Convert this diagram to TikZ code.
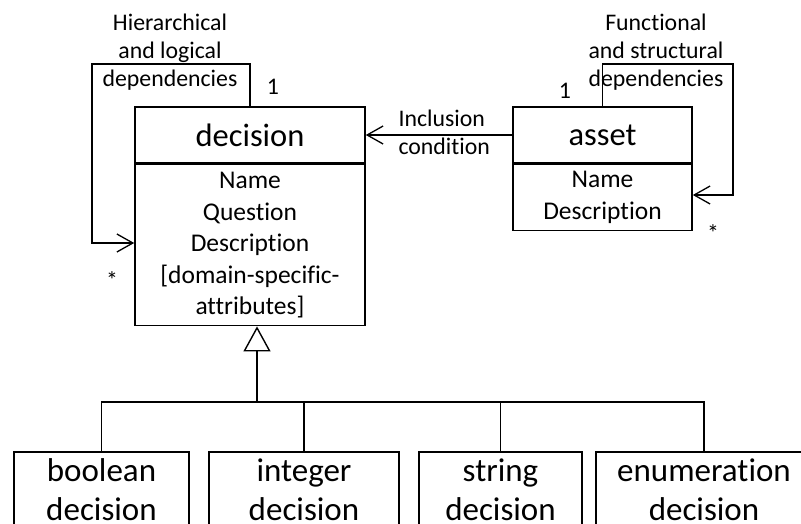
\documentclass[tikz,border=0pt]{standalone}
\usepackage{fontspec}
\setmainfont{Carlito}[Ligatures={NoCommon}]
\usetikzlibrary{arrows.meta}
\begin{document}
\begin{tikzpicture}[x=1pt,y=-1pt,
  box/.style={draw, line width=1.6pt, inner sep=0pt, align=center},
  headfont/.style={font=\fontsize{32.5}{40}\selectfont},
  attrfont/.style={font=\fontsize{25.5}{31.5}\selectfont},
  subfont/.style={font=\fontsize{33}{39}\selectfont},
  lblfont/.style={font=\fontsize{23.8}{28}\selectfont},
  conn/.style={line width=1.3pt},
  barb/.style={conn, -{Straight Barb[length=16pt,width=18pt,line width=1.3pt]}},
  gen/.style={line width=2.5pt, -{Triangle[open,length=25pt,width=27pt,line width=1.4pt,fill=white]}}
]
\clip (0,0) rectangle (801,524);
\fill[white] (0,0) rectangle (801,524);

% decision class
\node[box, headfont, minimum width=230pt, minimum height=56pt] (dhead) at (250,135) {decision};
\node[box, attrfont, minimum width=230pt, minimum height=161pt, anchor=north] (dbody) at (dhead.south)
  {Name\\Question\\Description\\{[}domain-specific-\\attributes{]}};

% asset class
\node[box, headfont, minimum width=179pt, minimum height=56pt] (ahead) at (602.5,135) {asset};
\node[box, attrfont, minimum width=179pt, minimum height=66pt, anchor=north] (abody) at (ahead.south)
  {Name\\Description};

% subclasses
\node[box, subfont, minimum width=175pt, minimum height=76pt] (bool) at (101.5,490) {boolean\\decision};
\node[box, subfont, minimum width=190pt, minimum height=76pt] (int) at (304,490) {integer\\decision};
\node[box, subfont, minimum width=163pt, minimum height=76pt] (str) at (500.5,490) {string\\decision};
\node[box, subfont, minimum width=216pt, minimum height=76pt] (enum) at (704,490) {enumeration\\decision};

% generalization
\coordinate (bar) at (257,402);
\draw[conn] (bool.north) -- (bool.north |- bar) -- (enum.north |- bar) -- (enum.north);
\draw[conn] (int.north) -- (int.north |- bar);
\draw[conn] (str.north) -- (str.north |- bar);
\draw[gen] (bar) -- (dbody.south -| bar);

% inclusion condition
\draw[barb] (ahead.west) -- (dhead.east);
\node[lblfont, align=left, anchor=west] (incl) at (395,132) {Inclusion\\condition};

% decision self loop
\coordinate (hlA) at (92,64);
\coordinate (hlB) at (92,243);
\draw[barb] (dhead.north) |- (hlA) -- (hlB) -- (hlB -| dbody.west);
\node[lblfont, align=center] (hlbl) at (170,52) {Hierarchical\\and logical\\dependencies};
\node[lblfont] (d1) at (273,87) {1};
\node[lblfont] (dstar) at (112,280) {*};

% asset self loop
\coordinate (flA) at (733,64);
\coordinate (flB) at (733,195);
\draw[barb] (ahead.north) |- (flA) -- (flB) -- (flB -| abody.east);
\node[lblfont, align=center] (flbl) at (656,52) {Functional\\and structural\\dependencies};
\node[lblfont] (a1) at (565,91) {1};
\node[lblfont] (astar) at (713,233) {*};
\end{tikzpicture}
\end{document}
